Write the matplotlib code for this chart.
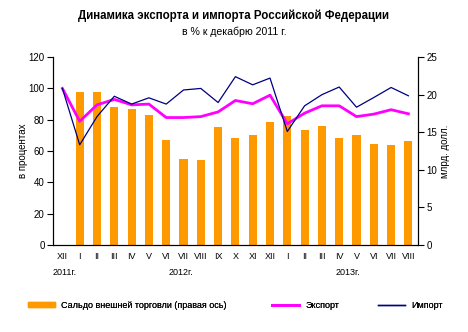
import matplotlib
matplotlib.use("Agg")
import matplotlib.pyplot as plt
import numpy as np
from matplotlib.patches import Patch
from matplotlib.lines import Line2D

plt.rcParams["font.family"] = ["Liberation Sans", "DejaVu Sans"]

months = ["XII", "I", "II", "III", "IV", "V", "VI", "VII", "VIII", "IX", "X", "XI", "XII",
          "I", "II", "III", "IV", "V", "VI", "VII", "VIII"]
years = ["2011г.", "2012г.", "2013г."]

# сальдо, млрд. долл. (правая ось)
balance = [None, 20.3, 20.3, 18.3, 18.1, 17.3, 14.0, 11.5, 11.3, 15.7, 14.3, 14.7, 16.3,
           17.1, 15.3, 15.8, 14.3, 14.6, 13.5, 13.3, 13.9]
# экспорт и импорт, % к декабрю 2011
export = [100, 79, 89.5, 93, 89.5, 90, 81.4, 81.4, 82, 85, 92.3, 90.2, 95.7,
          77.4, 84.2, 88.9, 88.9, 82, 83.6, 86.4, 83.8]
imports = [100, 64, 82, 95, 90, 94, 90, 99, 100, 91, 107.5, 102.3, 106.6,
           72.5, 88.9, 96, 100.9, 88, 94.2, 100.6, 95.3]

x = np.arange(len(months))

fig = plt.figure(figsize=(4.68, 3.32), dpi=100)
ax = fig.add_axes([0.113, 0.262, 0.78, 0.566])
ax2 = ax.twinx()

bx = [i for i, v in zip(x, balance) if v is not None]
bv = [v for v in balance if v is not None]
ax2.bar(bx, bv, width=0.47, color="#FF9900", zorder=1)
ax.set_zorder(ax2.get_zorder() + 1)
ax.patch.set_visible(False)

ax.plot(x, export, color="#FF00FF", linewidth=2)
ax.plot(x, imports, color="#000080", linewidth=0.9)

ax.set_xlim(-0.55, len(months) - 0.45)
ax.set_ylim(0, 120)
ax.set_yticks(range(0, 121, 20))
ax2.set_ylim(0, 25)
ax2.set_yticks(range(0, 26, 5))

ax.set_xticks(x)
ax.set_xticklabels(months)
ax.tick_params(axis="x", length=0, labelsize=6.5, pad=5)
ax.tick_params(axis="y", labelsize=7, length=4, width=0.8, pad=2)
ax2.tick_params(axis="y", labelsize=7, length=4, width=0.8, pad=2)

for a in (ax, ax2):
    a.spines["top"].set_visible(False)
    for s in ("left", "right", "bottom"):
        a.spines[s].set_linewidth(0.8)

ax.set_ylabel("в процентах", fontsize=7, labelpad=0)
ax2.set_ylabel("млрд. долл.", fontsize=7, rotation=90, labelpad=2)

# подписи годов
for xpos, lab in zip([0.15, 6.85, 16.5], years):
    ax.text(xpos, -0.145, lab, transform=ax.get_xaxis_transform(),
            ha="center", va="center", fontsize=6.5)

fig.text(0.5, 0.952, "Динамика экспорта и импорта Российской Федерации",
         ha="center", va="center", fontsize=8.3, fontweight="bold")
fig.text(0.5, 0.903, "в % к декабрю 2011 г.", ha="center", va="center", fontsize=7.6)

# легенда: три отдельных элемента
items = [
    (Patch(color="#FF9900"), "Сальдо внешней торговли (правая ось)", 0.060),
    (Line2D([], [], color="#FF00FF", linewidth=2), "Экспорт", 0.581),
    (Line2D([], [], color="#000080", linewidth=1), "Импорт", 0.808),
]
for h, lab, lx in items:
    leg = fig.legend([h], [lab], loc="center left", bbox_to_anchor=(lx, 0.08),
                     frameon=False, fontsize=6.5, handlelength=3.0,
                     handleheight=0.45, handletextpad=0.7, borderpad=0,
                     borderaxespad=0)
    fig.add_artist(leg)

fig.savefig("out.png", dpi=100)
